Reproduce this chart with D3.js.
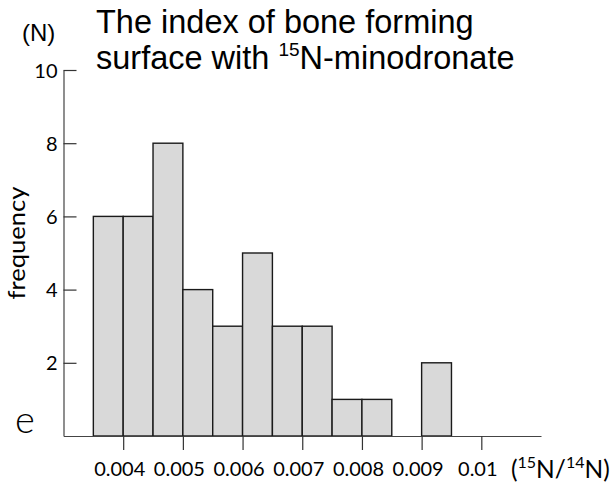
<!DOCTYPE html>
<html>
<head>
<meta charset="utf-8">
<script src="https://cdn.jsdelivr.net/npm/d3@7"></script>
<style>
  html, body { margin: 0; padding: 0; background: #fff; }
  svg { display: block; }
  .tick text { font-family: Lato, sans-serif; font-size: 20px; fill: #000; }
</style>
</head>
<body>
<script>
// Histogram bins (left edge of each 0.0005-wide bin) and counts
const binStarts = [0.0035, 0.004, 0.0045, 0.005, 0.0055, 0.006, 0.0065, 0.007, 0.0075, 0.008, 0.0085, 0.009];
const counts    = [6, 6, 8, 4, 3, 5, 3, 3, 1, 1, 0, 2];
const binWidth = 0.0005;

const xTicks = [0.004, 0.005, 0.006, 0.007, 0.008, 0.009, 0.01];
const xTickLabels = ["0.004", "0.005", "0.006", "0.007", "0.008", "0.009", "0.01"];
const yTicks = [2, 4, 6, 8, 10];

const titleLines = ["The index of bone forming", "surface with "];

const W = 614, H = 486;
const svg = d3.select("body").append("svg").attr("width", W).attr("height", H);

const x = d3.scaleLinear().domain([0.003, 0.011]).range([63.5, 541]);
const y = d3.scaleLinear().domain([0, 10]).range([436, 70]);

const bins = binStarts.map((s, i) => ({ x0: s, x1: s + binWidth, n: counts[i] }));

// bars
svg.append("g").selectAll("rect")
  .data(bins.filter(d => d.n > 0))
  .join("rect")
  .attr("x", d => x(d.x0))
  .attr("y", d => y(d.n))
  .attr("width", d => x(d.x1) - x(d.x0))
  .attr("height", d => y(0) - y(d.n))
  .attr("fill", "#d9d9d9")
  .attr("stroke", "#1a1a1a")
  .attr("stroke-width", 1.4);

// x axis
const xAxis = svg.append("g")
  .attr("transform", `translate(0,${y(0)})`)
  .call(d3.axisBottom(x).tickValues(xTicks).tickSize(14).tickSizeOuter(0)
    .tickFormat((d, i) => xTickLabels[i]));
xAxis.select(".domain").attr("stroke", "#444").attr("stroke-width", 1.2);
xAxis.selectAll(".tick line").attr("stroke", "#333").attr("stroke-width", 1.2);
xAxis.selectAll(".tick text").attr("dy", null).attr("y", 40).attr("dx", -4);

// y axis with ticks pointing inward
const yAxis = svg.append("g")
  .attr("transform", `translate(${x(0.003)},0)`)
  .call(d3.axisLeft(y).tickValues(yTicks).tickSize(-13).tickSizeOuter(0));
yAxis.select(".domain").attr("stroke", "#444").attr("stroke-width", 1.2);
yAxis.selectAll(".tick line").attr("stroke", "#333").attr("stroke-width", 1.2);
yAxis.selectAll(".tick text").attr("x", -6).attr("dy", "0.35em");

// y axis title
svg.append("text")
  .attr("transform", "translate(25,243) rotate(-90)")
  .attr("text-anchor", "middle")
  .attr("font-family", "Lato, sans-serif")
  .attr("font-size", 23)
  .attr("textLength", 113)
  .attr("lengthAdjust", "spacingAndGlyphs")
  .text("frequency");

// unit of the y axis
svg.append("text")
  .attr("x", 22).attr("y", 41)
  .attr("font-family", "'Liberation Sans', Arial, sans-serif")
  .attr("font-size", 24)
  .text("(N)");

// unit of the x axis
const xu = svg.append("text")
  .attr("x", 511).attr("y", 478)
  .attr("font-family", "Lato, sans-serif")
  .attr("font-size", 24.5);
xu.append("tspan").text("(");
xu.append("tspan").attr("font-size", 16).attr("dy", -10).text("15");
xu.append("tspan").attr("dy", 10).text("N/");
xu.append("tspan").attr("font-size", 16).attr("dy", -10).text("14");
xu.append("tspan").attr("dy", 10).text("N)");

// panel letter
svg.append("text")
  .attr("x", 15).attr("y", 433)
  .attr("font-family", "Lato, sans-serif")
  .attr("font-weight", 300)
  .attr("font-size", 38)
  .text("e");

// chart title
const title = svg.append("g")
  .attr("font-family", "'Liberation Sans', Arial, sans-serif")
  .attr("font-size", 32.5)
  .attr("fill", "#000");
title.append("text").attr("x", 96).attr("y", 33).text(titleLines[0]);
const t2 = title.append("text").attr("x", 96).attr("y", 69);
t2.append("tspan").text(titleLines[1]);
t2.append("tspan").attr("font-size", 19).attr("dy", -13).text("15");
t2.append("tspan").attr("dy", 13).text("N-minodronate");
</script>
</body>
</html>
